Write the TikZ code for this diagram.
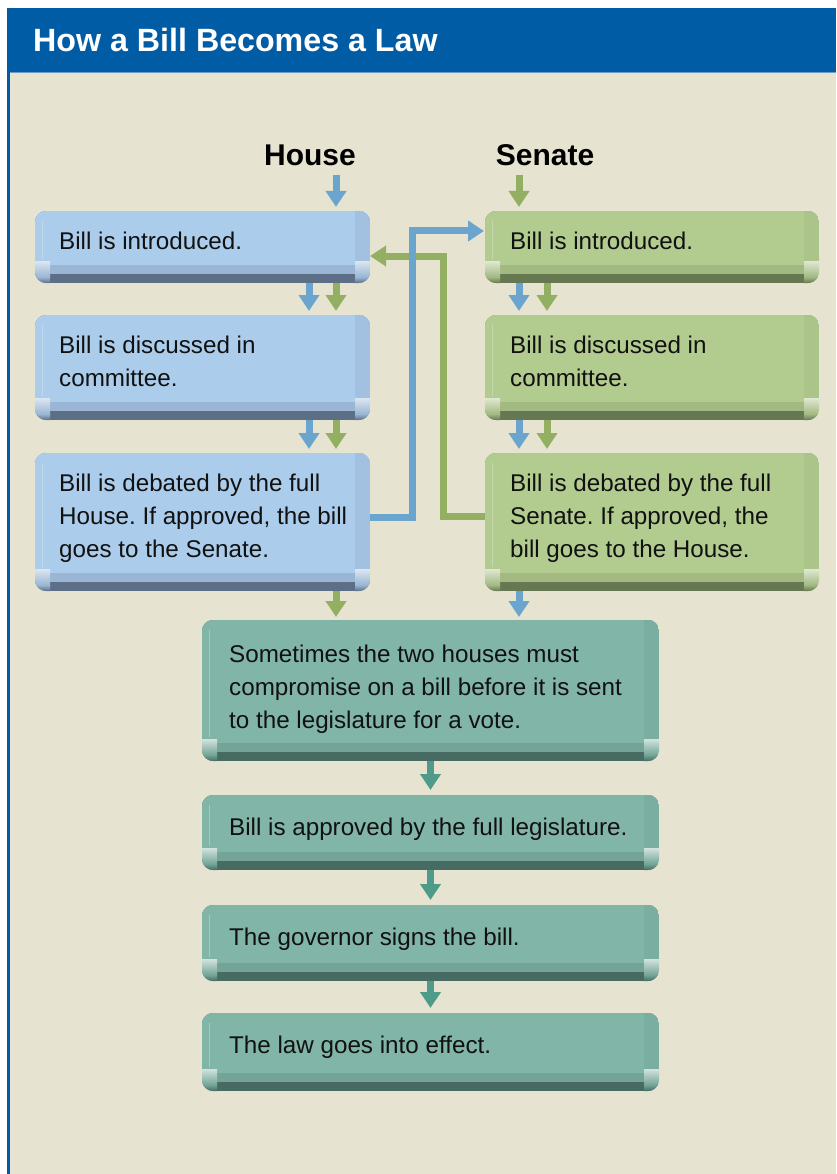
\documentclass[tikz,border=0pt]{standalone}
\usepackage{fontspec}
\setmainfont{Liberation Sans}
\usetikzlibrary{calc,arrows.meta}
\frenchspacing
\definecolor{hdrblue}{HTML}{005CA5}
\definecolor{hdrline}{HTML}{6A9BCB}
\definecolor{beige}{HTML}{E7E3D1}
\definecolor{hbF}{HTML}{ABCDEB}
\definecolor{hbM}{HTML}{9AB6D4}
\definecolor{hbD}{HTML}{5D6F87}
\definecolor{hbS}{HTML}{A2C1E0}
\definecolor{hbL}{HTML}{DCE6F0}
\definecolor{sgF}{HTML}{B2CB8F}
\definecolor{sgM}{HTML}{A2B982}
\definecolor{sgD}{HTML}{667852}
\definecolor{sgS}{HTML}{ABC489}
\definecolor{sgL}{HTML}{E0E8D2}
\definecolor{tlF}{HTML}{80B5A8}
\definecolor{tlM}{HTML}{73A497}
\definecolor{tlD}{HTML}{476B62}
\definecolor{tlS}{HTML}{7AAEA1}
\definecolor{tlL}{HTML}{D2E3DD}
\definecolor{arrB}{HTML}{6BA5CE}
\definecolor{arrG}{HTML}{93B062}
\definecolor{arrT}{HTML}{4F9B89}
\definecolor{ink}{HTML}{111111}

\newcommand\btnbg[2]{%
  \coordinate (nw) at (#1.north west);
  \coordinate (se) at (#1.south east);
  \begin{scope}
    \clip[rounded corners=11pt] (nw) rectangle (se);
    \fill[#2D] (nw) rectangle (se);
    \fill[#2M] (nw) rectangle ($(se)+(0,-9)$);
    \fill[#2F] (nw) rectangle ($(se)+(0,-18)$);
    \fill[#2S] ($(nw -| se)+(-15,0)$) rectangle ($(se)+(0,-18)$);
    \draw[#2L, line width=0.7pt, opacity=0.45] ($(nw)+(7,10)$) -- ($(nw |- se)+(7,-24)$);
    \shade[top color=#2L, bottom color=#2M] ($(nw |- se)+(0,-22)$) rectangle ($(nw |- se)+(15,-6)$);
    \shade[top color=#2M, bottom color=#2D] ($(nw |- se)+(0,-6)$) rectangle ($(nw |- se)+(15,0)$);
    \shade[top color=#2L, bottom color=#2M] ($(se)+(-15,-22)$) rectangle ($(se)+(0,-6)$);
    \shade[top color=#2M, bottom color=#2D] ($(se)+(-15,-6)$) rectangle (se);
  \end{scope}}

\tikzset{
  boxnode/.style={inner sep=0pt, outer sep=0pt, anchor=north west, rectangle},
  txt/.style={anchor=base west, inner sep=0pt, text=ink, font=\fontsize{24.2}{33}\selectfont},
  headtxt/.style={anchor=base, inner sep=0pt, text=black, font=\bfseries\fontsize{30}{36}\selectfont},
  arrbase/.style={line width=7pt, -{Triangle[width=20pt,length=16pt]}},
  barr/.style={arrbase, draw=arrB},
  garr/.style={arrbase, draw=arrG},
  tarr/.style={arrbase, draw=arrT},
}
\newcommand\lines[1]{\begin{tabular}[t]{@{}l@{}}#1\end{tabular}}

\begin{document}
\begin{tikzpicture}[x=1pt,y=-1pt]
\useasboundingbox (0,0) rectangle (836,1174);
\fill[white] (0,0) rectangle (836,1174);
\fill[beige] (7,72) rectangle (836,1174);
\fill[hdrblue] (7,8) rectangle (836,72);
\fill[hdrblue] (7,72) rectangle (10,1174);
\draw[hdrline, line width=1pt] (10,72.5) -- (836,72.5);
\node[anchor=base west, inner sep=0pt, text=white, font=\bfseries\fontsize{32.2}{38}\selectfont] (title) at (33,52) {How a Bill Becomes a Law};

\node[headtxt] (hl) at (310,166) {House};
\node[headtxt] (sl) at (545,166) {Senate};

% House column
\node[boxnode, minimum width=335pt, minimum height=72pt] (h1) at (35,211) {};
\node[boxnode, minimum width=335pt, minimum height=105pt] (h2) at (35,315) {};
\node[boxnode, minimum width=335pt, minimum height=138pt] (h3) at (35,453) {};
% Senate column
\node[boxnode, minimum width=334pt, minimum height=72pt] (s1) at (485,211) {};
\node[boxnode, minimum width=334pt, minimum height=105pt] (s2) at (485,315) {};
\node[boxnode, minimum width=334pt, minimum height=138pt] (s3) at (485,453) {};
% Joint column
\node[boxnode, minimum width=457pt, minimum height=141pt] (tA) at (202,620) {};
\node[boxnode, minimum width=457pt, minimum height=75pt] (tB) at (202,795) {};
\node[boxnode, minimum width=457pt, minimum height=76pt] (tC) at (202,905) {};
\node[boxnode, minimum width=457pt, minimum height=78pt] (tD) at (202,1013) {};

\btnbg{h1}{hb}\btnbg{h2}{hb}\btnbg{h3}{hb}
\btnbg{s1}{sg}\btnbg{s2}{sg}\btnbg{s3}{sg}
\btnbg{tA}{tl}\btnbg{tB}{tl}\btnbg{tC}{tl}\btnbg{tD}{tl}

\node[txt] (h1t) at ($(h1.north west)+(24,38)$) {\lines{Bill is introduced.}};
\node[txt] (h2t) at ($(h2.north west)+(24,38)$) {\lines{Bill is discussed in\\committee.}};
\node[txt] (h3t) at ($(h3.north west)+(24,38)$) {\lines{Bill is debated by the full\\House. If approved, the bill\\goes to the Senate.}};
\node[txt] (s1t) at ($(s1.north west)+(25,38)$) {\lines{Bill is introduced.}};
\node[txt] (s2t) at ($(s2.north west)+(25,38)$) {\lines{Bill is discussed in\\committee.}};
\node[txt] (s3t) at ($(s3.north west)+(25,38)$) {\lines{Bill is debated by the full\\Senate. If approved, the\\bill goes to the House.}};
\node[txt] (tAt) at ($(tA.north west)+(27,42)$) {\lines{Sometimes the two houses must\\compromise on a bill before it is sent\\to the legislature for a vote.}};
\node[txt] (tBt) at ($(tB.north west)+(27,40)$) {\lines{Bill is approved by the full legislature.}};
\node[txt] (tCt) at ($(tC.north west)+(27,40)$) {\lines{The governor signs the bill.}};
\node[txt] (tDt) at ($(tD.north west)+(27,40)$) {\lines{The law goes into effect.}};

% entry arrows
\draw[barr] ($(hl.south -| h1.north)+(133.5,9)$) -- ($(h1.north)+(133.5,-4)$);
\draw[garr] ($(sl.south -| s1.north)+(-133,9)$) -- ($(s1.north)+(-133,-4)$);

% house steps
\draw[barr] ($(h1.south)+(106.5,0)$) -- ($(h2.north)+(106.5,-4)$);
\draw[garr] ($(h1.south)+(133.5,0)$) -- ($(h2.north)+(133.5,-4)$);
\draw[barr] ($(h2.south)+(106.5,0)$) -- ($(h3.north)+(106.5,-4)$);
\draw[garr] ($(h2.south)+(133.5,0)$) -- ($(h3.north)+(133.5,-4)$);
% senate steps
\draw[barr] ($(s1.south)+(-133,0)$) -- ($(s2.north)+(-133,-4)$);
\draw[garr] ($(s1.south)+(-105,0)$) -- ($(s2.north)+(-105,-4)$);
\draw[barr] ($(s2.south)+(-133,0)$) -- ($(s3.north)+(-133,-4)$);
\draw[garr] ($(s2.south)+(-105,0)$) -- ($(s3.north)+(-105,-4)$);

% crossing connectors
\draw[garr] ($(s3.west)+(0,-6)$) -- ++(-42,0) |- ($(h1.east)+(0,9)$);
\draw[barr] ($(h3.east)+(0,-5)$) -- ++(42,0) |- ($(s1.west)+(-1,-16)$);

% into joint box
\draw[garr] ($(h3.south)+(133.5,0)$) -- ($(h3.south |- tA.north)+(133.5,-3)$);
\draw[barr] ($(s3.south)+(-133,0)$) -- ($(s3.south |- tA.north)+(-133,-3)$);

% joint steps
\draw[tarr] (tA.south) -- ($(tB.north)+(0,-5)$);
\draw[tarr] (tB.south) -- ($(tC.north)+(0,-5)$);
\draw[tarr] (tC.south) -- ($(tD.north)+(0,-5)$);
\end{tikzpicture}
\end{document}
